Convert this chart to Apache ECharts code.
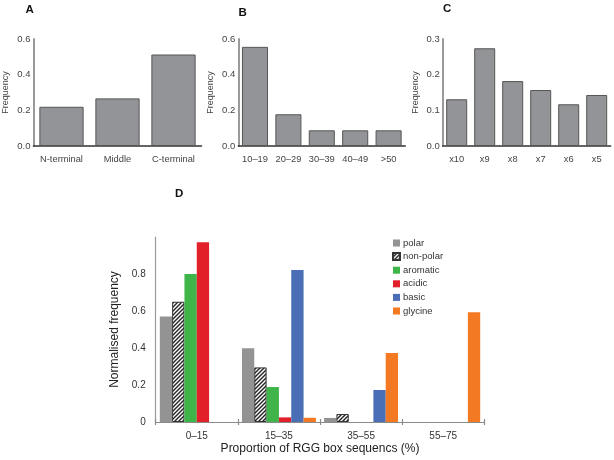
<!DOCTYPE html>
<html><head><meta charset="utf-8">
<script src="https://cdn.jsdelivr.net/npm/echarts@6/dist/echarts.min.js"></script>
<style>html,body{margin:0;padding:0;background:#fff}#c{width:614px;height:460px}</style>
</head><body><div id="c"></div>
<script>
// Panel A
var catsA = ['N-terminal', 'Middle', 'C-terminal'];
var valsA = [0.22, 0.267, 0.513];
// Panel B
var catsB = ['10–19', '20–29', '30–39', '40–49', '>50'];
var valsB = [0.556, 0.178, 0.088, 0.088, 0.088];
// Panel C
var catsC = ['x10', 'x9', 'x8', 'x7', 'x6', 'x5'];
var valsC = [0.131, 0.274, 0.182, 0.157, 0.117, 0.143];
// Panel D
var catsD = ['0–15', '15–35', '35–55', '55–75'];
var polar = [0.57, 0.398, 0.022, 0];
var nonPolar = [0.65, 0.295, 0.043, 0];
var aromatic = [0.80, 0.189, 0, 0];
var acidic = [0.971, 0.025, 0, 0];
var basic = [0, 0.822, 0.173, 0];
var glycine = [0, 0.023, 0.373, 0.593];

var FONT = 'Liberation Sans, Arial, sans-serif';

// hatch pattern
var pc = document.createElement('canvas');
pc.width = 4; pc.height = 4;
var g = pc.getContext('2d');
g.fillStyle = '#fff'; g.fillRect(0, 0, 4, 4);
g.strokeStyle = '#222'; g.lineWidth = 1.4;
g.beginPath();
g.moveTo(0, 4); g.lineTo(4, 0);
g.moveTo(-1, 1); g.lineTo(1, -1);
g.moveTo(3, 5); g.lineTo(5, 3);
g.stroke();

var chart = echarts.init(document.getElementById('c'), null, {renderer: 'canvas'});

function smallY(idx, max, interval) {
  return {
    type: 'value', gridIndex: idx, min: 0, max: max, interval: interval,
    name: 'Frequency', nameLocation: 'middle', nameGap: 23,
    nameTextStyle: {fontFamily: FONT, fontSize: 9, color: '#444'},
    axisLine: {show: true, lineStyle: {color: '#9a9a9a', width: 2}},
    axisTick: {show: false}, splitLine: {show: false},
    axisLabel: {fontFamily: FONT, fontSize: 9.5, color: '#444', margin: 3,
      formatter: function (v) { return v.toFixed(1); }}
  };
}
function smallX(idx, cats) {
  return {
    type: 'category', gridIndex: idx, data: cats,
    axisLine: {show: true, lineStyle: {color: '#333', width: 1.5}},
    axisTick: {show: false},
    axisLabel: {fontFamily: FONT, fontSize: 9.3, color: '#444', margin: 9, interval: 0}
  };
}
function smallBar(idx, vals, gap) {
  return {
    type: 'bar', xAxisIndex: idx, yAxisIndex: idx, data: vals, barCategoryGap: gap,
    itemStyle: {color: '#939497', borderColor: '#555', borderWidth: 1}, silent: true
  };
}
function dSeries(name, vals, style) {
  return {
    name: name, type: 'bar', xAxisIndex: 3, yAxisIndex: 3,
    data: vals.map(function (v) { return v === 0 ? '-' : v; }),
    barGap: 0, barCategoryGap: '10%', itemStyle: style, silent: true
  };
}
function letter(t, x, y) {
  return {text: t, left: x, top: y, padding: 0,
    textStyle: {fontFamily: FONT, fontSize: 11.5, fontWeight: 'bold', color: '#111'}};
}

var option = {
  animation: false,
  backgroundColor: '#fff',
  title: [
    letter('A', 25.5, 4), letter('B', 238.5, 6.5), letter('C', 443, 3), letter('D', 175, 188)
  ],
  legend: {
    orient: 'vertical', left: 387, top: 233, itemWidth: 7, itemHeight: 7, itemGap: 3.6,
    textStyle: {fontFamily: FONT, fontSize: 9.5, color: '#333', padding: [0, 0, 0, -2]},
    data: [
      {name: 'polar', icon: 'rect'},
      {name: 'non-polar', icon: 'rect'},
      {name: 'aromatic', icon: 'rect'},
      {name: 'acidic', icon: 'rect'},
      {name: 'basic', icon: 'rect'},
      {name: 'glycine', icon: 'rect'}
    ]
  },
  grid: [
    {left: 33.5, width: 168, top: 39, height: 107},
    {left: 238.3, width: 167, top: 39, height: 107},
    {left: 442.7, width: 168, top: 39, height: 107},
    {left: 155.7, width: 328.6, top: 237, height: 185}
  ],
  xAxis: [
    smallX(0, catsA), smallX(1, catsB), smallX(2, catsC),
    {
      type: 'category', gridIndex: 3, data: catsD, position: 'bottom',
      name: 'Proportion of RGG box sequencs (%)', nameLocation: 'middle', nameGap: 21,
      nameTextStyle: {fontFamily: FONT, fontSize: 12, color: '#222'},
      axisLine: {show: true, lineStyle: {color: '#8a8a8a', width: 1.2}},
      axisTick: {show: true, length: 3, lineStyle: {color: '#8a8a8a', width: 1.2}},
      axisLabel: {fontFamily: FONT, fontSize: 10, color: '#333', margin: 9}
    },
    {
      type: 'category', gridIndex: 3, data: catsD, position: 'bottom', offset: 0,
      axisLine: {show: false},
      axisTick: {show: true, inside: true, length: 3, lineStyle: {color: '#8a8a8a', width: 1.2}},
      axisLabel: {show: false}
    }
  ],
  yAxis: [
    smallY(0, 0.6, 0.2), smallY(1, 0.6, 0.2), smallY(2, 0.3, 0.1),
    {
      type: 'value', gridIndex: 3, min: 0, max: 1, interval: 0.2,
      name: 'Normalised frequency', nameLocation: 'middle', nameGap: 34,
      nameTextStyle: {fontFamily: FONT, fontSize: 12, color: '#222'},
      axisLine: {show: true, lineStyle: {color: '#9a9a9a', width: 1.2}},
      axisTick: {show: false}, splitLine: {show: false},
      axisLabel: {fontFamily: FONT, fontSize: 10, color: '#333', margin: 10,
        formatter: function (v) { return v >= 0.999 ? '' : (v === 0 ? '0' : v.toFixed(1)); }}
    }
  ],
  series: [
    smallBar(0, valsA, '21%'),
    smallBar(1, valsB, '22%'),
    smallBar(2, valsC, '25%'),
    dSeries('polar', polar, {color: '#939393'}),
    dSeries('non-polar', nonPolar, {color: {image: pc, repeat: 'repeat'}, borderColor: '#333', borderWidth: 1}),
    dSeries('aromatic', aromatic, {color: '#3fb549'}),
    dSeries('acidic', acidic, {color: '#e2202a'}),
    dSeries('basic', basic, {color: '#4a6fb7'}),
    dSeries('glycine', glycine, {color: '#f37a22'})
  ]
};
chart.setOption(option);
</script>
</body></html>
